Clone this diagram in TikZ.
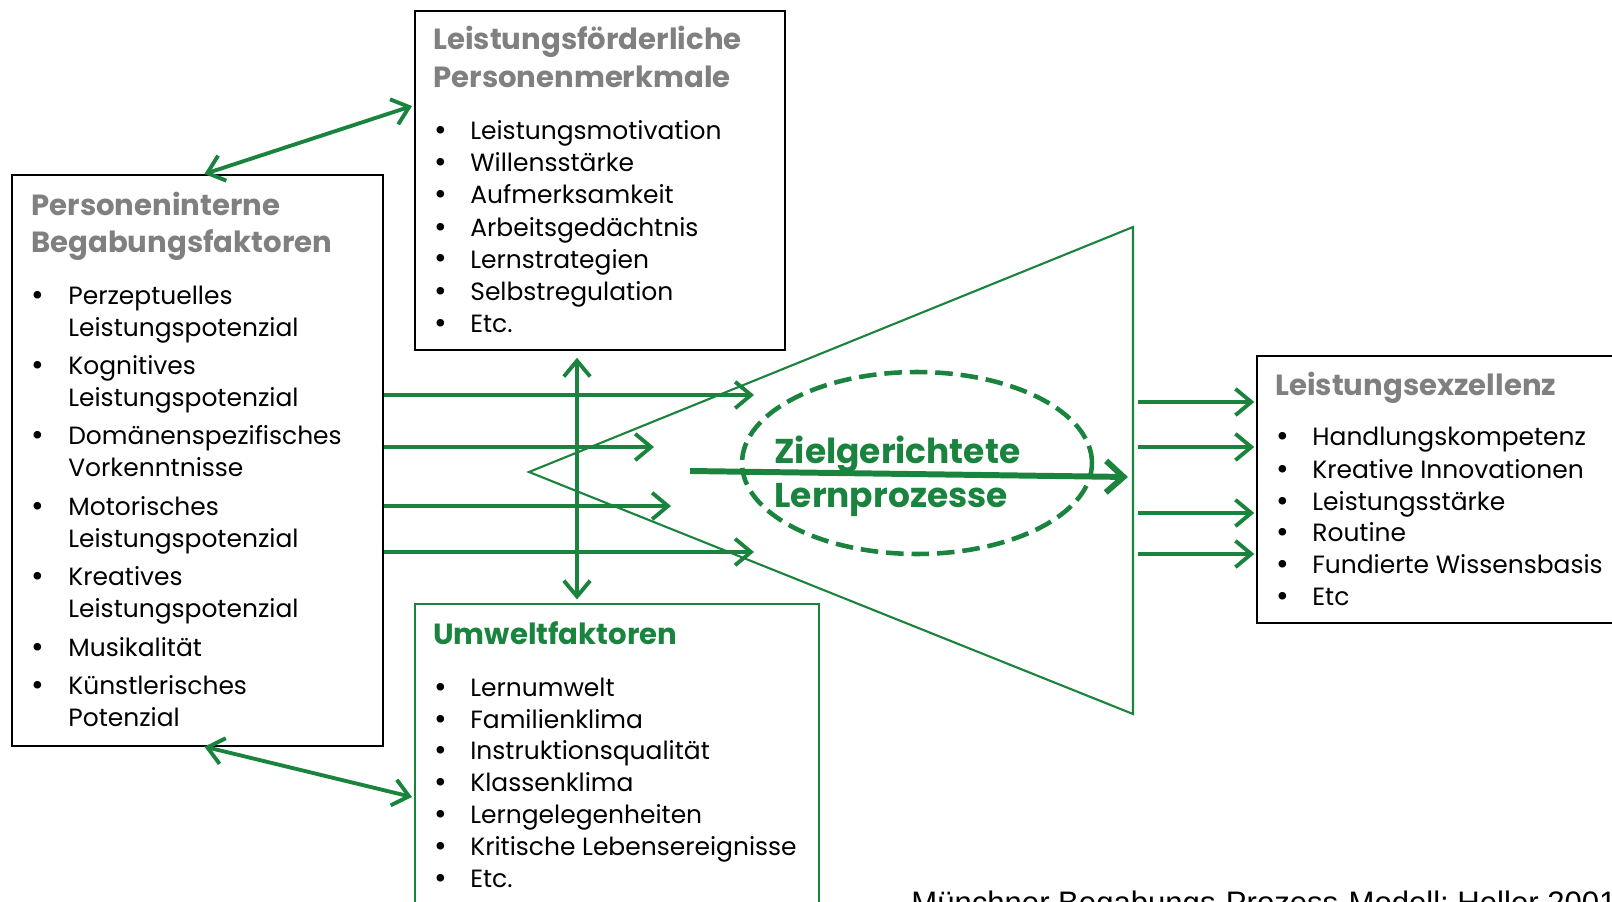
\documentclass[tikz,border=0pt]{standalone}
\usepackage{fontspec}
\setmainfont{Poppins}
\newfontfamily\quellefont{Liberation Sans}
\usetikzlibrary{arrows.meta,shapes.geometric}

\definecolor{lerngruen}{RGB}{26,132,62}
\definecolor{titelgrau}{RGB}{128,128,128}

\tikzstyle{kasten}=[draw,black,line width=1pt,anchor=north west,inner sep=0pt]
\tikzstyle{titel}=[anchor=base west,inner sep=0pt,titelgrau,font=\fontsize{16.6}{20}\selectfont\bfseries]
\tikzstyle{punkt}=[anchor=base west,inner sep=0pt,font=\fontsize{14.2}{17}\selectfont]
\tikzstyle{kreis}=[anchor=base west,inner sep=0pt,font=\fontsize{17.5}{18}\selectfont]
\tikzstyle{pfeil}=[lerngruen,line width=2.2pt,-{Straight Barb[length=9pt,width=15pt]}]
\tikzstyle{doppelpfeil}=[pfeil,{Straight Barb[length=9pt,width=15pt]}-{Straight Barb[length=9pt,width=15pt]}]

\begin{document}
\begin{tikzpicture}[x=0.02cm,y=-0.02cm]
    \clip (0,0) rectangle (1612,902);

    \node (tbox)[kasten,minimum width=7.4cm,minimum height=6.78cm] at (414,10) {};
    \node (lbox)[kasten,minimum width=7.42cm,minimum height=11.42cm] at (11,174) {};
    \node (ubox)[kasten,lerngruen,minimum width=8.08cm,minimum height=8cm] at (414,603) {};
    \node (rbox)[kasten,minimum width=8cm,minimum height=5.34cm] at (1256,355) {};

    \node (ttitel1)[titel] at (433,50) {Leistungsförderliche};
    \node (ttitel2)[titel] at (433,88) {Personenmerkmale};
    \foreach \y/\t [count=\i] in {140/Leistungsmotivation,172/Willensstärke,204/Aufmerksamkeit,
        236/Arbeitsgedächtnis,268/Lernstrategien,300/Selbstregulation,332/Etc.} {
        \node (tb\i)[kreis] at (434,\y+1) {•};
        \node (t\i)[punkt] at (470,\y) {\t};
    }

    \node (ltitel1)[titel] at (31,215) {Personeninterne};
    \node (ltitel2)[titel] at (31,253) {Begabungsfaktoren};
    \foreach \y in {304,374,444,515,585,656,694} {
        \node (lb\y)[kreis] at (31,\y+1) {•};
    }
    \foreach \y/\t [count=\i] in {304/Perzeptuelles,336/Leistungspotenzial,374/Kognitives,406/Leistungspotenzial,
        444/Domänenspezifisches,476/Vorkenntnisse,515/Motorisches,547/Leistungspotenzial,
        585/Kreatives,617/Leistungspotenzial,656/Musikalität,694/Künstlerisches,726/Potenzial} {
        \node (l\i)[punkt] at (68,\y) {\t};
    }

    \node (utitel)[titel,lerngruen] at (433,644) {Umweltfaktoren};
    \foreach \y/\t [count=\i] in {696/Lernumwelt,728/Familienklima,759/Instruktionsqualität,791/Klassenklima,
        823/Lerngelegenheiten,855/Kritische Lebensereignisse,887/Etc.} {
        \node (ub\i)[kreis] at (434,\y+1) {•};
        \node (u\i)[punkt] at (470,\y) {\t};
    }

    \node (rtitel)[titel] at (1275,395) {Leistungsexzellenz};
    \foreach \y/\t [count=\i] in {445/Handlungskompetenz,478/Kreative Innovationen,510/Leistungsstärke,
        541/Routine,573/Fundierte Wissensbasis,605/Etc} {
        \node (rb\i)[kreis] at (1276,\y+1) {•};
        \node (r\i)[punkt] at (1312,\y) {\t};
    }

    \coordinate (spitze) at (529,472);
    \coordinate (oben) at (1133,227);
    \coordinate (unten) at (1133,714);
    \draw[lerngruen,line width=1.2pt,line join=miter] (spitze) -- (oben) -- (unten) -- cycle;

    \node (ziel)[ellipse,draw,lerngruen,line width=2.6pt,dash pattern=on 10pt off 4.5pt,
        minimum width=7cm,minimum height=3.64cm] at (917,463) {};
    \node (ziel1)[titel,lerngruen,font=\fontsize{19.6}{22}\selectfont\bfseries] at (774,463) {Zielgerichtete};
    \node (ziel2)[titel,lerngruen,font=\fontsize{19.6}{22}\selectfont\bfseries] at (774,507) {Lernprozesse};

    \coordinate (e1) at (754,395);
    \coordinate (e2) at (654,447);
    \coordinate (e3) at (671,506);
    \coordinate (e4) at (754,552);
    \draw[pfeil] (lbox.east |- e1) -- (e1);
    \draw[pfeil] (lbox.east |- e2) -- (e2);
    \draw[pfeil] (lbox.east |- e3) -- (e3);
    \draw[pfeil] (lbox.east |- e4) -- (e4);

    \coordinate (a1) at (1138,402);
    \coordinate (a2) at (1138,447);
    \coordinate (a3) at (1138,513);
    \coordinate (a4) at (1138,554);
    \draw[pfeil] (a1) -- ([xshift=-1pt]rbox.west |- a1);
    \draw[pfeil] (a2) -- ([xshift=-1pt]rbox.west |- a2);
    \draw[pfeil] (a3) -- ([xshift=-1pt]rbox.west |- a3);
    \draw[pfeil] (a4) -- ([xshift=-1pt]rbox.west |- a4);

    \coordinate (lernstart) at (690,471);
    \coordinate (lernende) at (1128,477);
    \draw[lerngruen,line width=3.4pt,-{Straight Barb[length=10pt,width=18pt]}] (lernstart) -- (lernende);

    \coordinate (vx) at (577,0);
    \draw[doppelpfeil] ([yshift=-4pt]tbox.south -| vx) -- ([yshift=2pt]ubox.north -| vx);

    \coordinate (tw) at (412,106);
    \coordinate (uw) at (412,797);
    \draw[doppelpfeil] ([xshift=4pt]lbox.north) -- (tw);
    \draw[doppelpfeil] ([xshift=4pt]lbox.south) -- (uw);

    \node (quelle)[anchor=base west,inner sep=0pt,font=\quellefont\fontsize{17.7}{20}\selectfont] at (911,913)
        {Münchner Begabungs-Prozess-Modell; Heller 2001};
\end{tikzpicture}
\end{document}
